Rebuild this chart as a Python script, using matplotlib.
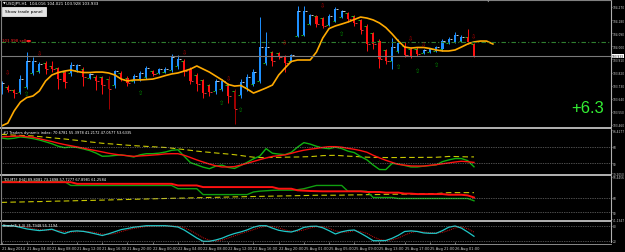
import matplotlib
matplotlib.use("Agg")
import matplotlib.pyplot as plt
from matplotlib.lines import Line2D
from matplotlib.patches import Rectangle

plt.rcParams['font.family'] = ['DejaVu Sans']

# ---------------- data ----------------
opens = [
    103.693, 103.720, 103.700, 103.686, 103.720, 103.817, 103.830, 103.885, 103.865, 103.851,
    103.823, 103.817, 103.837, 103.844, 103.782, 103.789, 103.789, 103.775, 103.734, 103.817,
    103.782, 103.762, 103.775, 103.789, 103.830, 103.817, 103.823, 103.837, 103.865, 103.899,
    103.844, 103.803, 103.769, 103.734, 103.693, 103.707, 103.734, 103.693, 103.665, 103.720,
    103.741, 103.762, 103.885, 103.961, 103.954, 103.933, 103.899, 104.071, 104.078, 104.153,
    104.208, 104.194, 104.146, 104.174, 104.201, 104.229, 104.208, 104.181, 104.140, 104.091,
    104.036, 103.975, 103.899, 103.968, 104.002, 103.981, 103.981, 103.954, 103.961, 103.968,
    103.981, 104.023, 104.030, 104.036, 104.064, 104.016]
highs = [
    103.762, 103.734, 103.707, 103.803, 103.961, 103.927, 103.892, 103.899, 103.899, 103.858,
    103.830, 103.892, 103.878, 103.858, 103.817, 103.803, 103.796, 103.796, 103.837, 103.830,
    103.796, 103.810, 103.830, 103.865, 103.837, 103.851, 103.858, 103.947, 103.940, 103.913,
    103.858, 103.817, 103.775, 103.741, 103.775, 103.775, 103.748, 103.707, 103.775, 103.810,
    103.844, 104.201, 104.098, 103.968, 103.961, 103.940, 103.947, 104.277, 104.277, 104.222,
    104.215, 104.201, 104.222, 104.270, 104.249, 104.236, 104.215, 104.188, 104.153, 104.098,
    104.050, 103.981, 104.057, 104.050, 104.030, 103.995, 103.995, 103.981, 103.988, 104.002,
    104.050, 104.064, 104.098, 104.078, 104.119, 104.021]
lows = [
    103.672, 103.686, 103.645, 103.672, 103.707, 103.803, 103.817, 103.810, 103.823, 103.707,
    103.714, 103.796, 103.823, 103.727, 103.775, 103.700, 103.672, 103.569, 103.714, 103.762,
    103.727, 103.748, 103.762, 103.775, 103.796, 103.810, 103.817, 103.823, 103.844, 103.796,
    103.741, 103.693, 103.645, 103.659, 103.672, 103.693, 103.611, 103.466, 103.645, 103.693,
    103.727, 103.748, 103.872, 103.865, 103.913, 103.823, 103.892, 104.064, 104.071, 104.146,
    104.133, 104.126, 104.140, 104.167, 104.194, 104.167, 104.140, 104.085, 103.968, 103.981,
    103.851, 103.878, 103.844, 103.954, 103.927, 103.920, 103.933, 103.947, 103.954, 103.961,
    103.968, 104.016, 104.023, 104.030, 104.016, 103.928]
closes = [
    103.748, 103.700, 103.679, 103.775, 103.899, 103.899, 103.878, 103.844, 103.844, 103.775,
    103.755, 103.872, 103.872, 103.789, 103.810, 103.762, 103.734, 103.707, 103.830, 103.775,
    103.748, 103.796, 103.817, 103.851, 103.810, 103.844, 103.844, 103.927, 103.913, 103.830,
    103.762, 103.741, 103.679, 103.686, 103.762, 103.762, 103.659, 103.569, 103.755, 103.789,
    103.823, 103.995, 103.995, 103.899, 103.927, 103.885, 103.940, 104.243, 104.243, 104.215,
    104.153, 104.140, 104.208, 104.256, 104.243, 104.188, 104.160, 104.112, 104.016, 104.016,
    103.913, 103.899, 103.995, 104.023, 103.940, 103.933, 103.947, 103.975, 103.981, 103.995,
    104.036, 104.050, 104.078, 104.064, 104.030, 103.933]
weak_bars = [17, 37]

ma_line = [
    103.453, 103.473, 103.556, 103.617, 103.648, 103.659, 103.693, 103.762, 103.803, 103.820,
    103.830, 103.837, 103.827, 103.820, 103.820, 103.823, 103.823, 103.817, 103.803, 103.775,
    103.762, 103.769, 103.769, 103.772, 103.775, 103.786, 103.799, 103.810, 103.817, 103.830,
    103.844, 103.865, 103.844, 103.823, 103.796, 103.769, 103.738, 103.727, 103.731, 103.707,
    103.679, 103.696, 103.714, 103.734, 103.803, 103.851, 103.896, 103.906, 103.906, 103.906,
    103.961, 104.057, 104.122, 104.140, 104.153, 104.167, 104.184, 104.201, 104.194, 104.181,
    104.160, 104.129, 104.085, 104.036, 103.995, 103.988, 103.992, 103.992, 103.985, 103.975,
    103.968, 103.968, 103.975, 103.995, 104.016, 104.030, 104.036, 104.036, 104.016]

sell_arrow_bars = [1, 6, 29, 36, 45, 51, 65, 67, 75]
sell_arrow_prices = [103.823, 103.954, 103.961, 103.782, 104.030, 104.284, 104.057, 104.016, 104.071]
buy_arrow_bars = [4, 22, 35, 38, 54, 63, 66, 69]
buy_arrow_prices = [103.679, 103.686, 103.617, 103.569, 104.091, 103.858, 103.837, 103.872]

bid_price = 103.933
level_price = 104.028
price_ticks = [104.270, 104.180, 104.090, 104.000, 103.910, 103.820, 103.730, 103.640, 103.550, 103.460]

tdi_green = [
    77.7, 76.8, 77.5, 78.9, 78.2, 77.1, 75.6, 73.6, 71.5, 68.8,
    67.2, 68.0, 67.4, 65.8, 64.0, 61.3, 57.8, 58.0, 58.7, 59.3,
    58.3, 57.0, 59.4, 60.6, 60.6, 61.2, 62.4, 64.3, 64.9, 57.8,
    50.8, 48.4, 45.9, 44.2, 47.0, 48.1, 45.6, 44.5, 47.8, 51.2,
    55.0, 58.0, 66.1, 61.1, 60.2, 59.6, 62.1, 67.8, 72.7, 71.1,
    68.7, 66.9, 66.1, 67.7, 66.2, 63.4, 61.8, 57.5, 53.9, 48.2,
    43.3, 43.2, 49.9, 49.4, 47.7, 46.1, 46.1, 47.0, 47.6, 48.4,
    51.9, 53.8, 55.3, 55.3, 53.0, 46.3]
tdi_red = [
    79.0, 79.3, 79.6, 80.0, 79.2, 78.6, 77.0, 75.4, 73.9, 72.1,
    70.6, 69.3, 68.0, 66.6, 65.2, 63.9, 62.5, 61.1, 60.0, 59.1,
    58.4, 57.7, 58.2, 58.6, 59.1, 59.6, 60.4, 60.6, 60.6, 58.9,
    56.4, 53.8, 51.5, 49.3, 47.4, 46.1, 46.1, 46.5, 48.2, 50.1,
    52.1, 54.1, 55.9, 57.6, 58.5, 59.3, 61.0, 62.9, 64.4, 65.5,
    66.4, 67.5, 68.3, 68.3, 67.7, 66.5, 65.4, 64.0, 62.2, 58.9,
    56.0, 53.4, 51.1, 48.9, 48.1, 47.2, 47.1, 47.1, 47.9, 48.6,
    49.6, 50.5, 51.5, 52.3, 51.8, 51.1]
tdi_base = [
    81.7, 81.3, 80.9, 80.6, 80.3, 80.0, 79.3, 78.7, 78.0, 77.3,
    76.7, 75.9, 75.2, 74.4, 73.5, 72.8, 72.0, 71.5, 71.0, 70.4,
    69.9, 69.4, 69.0, 68.6, 68.2, 67.8, 67.4, 66.7, 65.9, 65.1,
    64.3, 63.4, 62.7, 62.1, 61.4, 60.8, 60.2, 59.5, 58.6, 57.6,
    56.8, 56.4, 56.4, 56.5, 56.6, 56.8, 56.9, 57.0, 57.2, 57.4,
    57.9, 58.5, 58.7, 58.8, 58.4, 57.9, 57.6, 57.2, 56.8, 56.6,
    56.5, 56.4, 56.4, 56.4, 56.5, 56.5, 56.5, 56.6, 56.6, 56.7,
    57.1, 57.6, 57.5, 57.3, 57.1, 57.1]

mtf_red = ([86.8] * 12 + [84.8] * 16 + [82.8] * 4 + [80.8] * 12 + [78.8] * 3 +
           [76.8, 76.4, 76.0, 75.8] + [75.6] * 7 + [74.8] * 3 + [74.0] * 3 +
           [72.8] * 2 + [72.2] * 5 + [71.4] * 3 + [70.6, 68.0])
mtf_green = ([87.6] * 11 + [82.8] * 17 + [78.8] * 4 + [71.6] * 8 +
             [74.8, 75.8, 76.3, 76.8] + [77.0] * 3 + [77.6, 78.8, 80.8] +
             [82.8] * 5 + [75.6] * 4 + [68.0] * 4 + [66.8] * 12 + [64.0])
mtf_base = [
    62.0, 62.2, 62.4, 62.5, 62.7, 62.9, 63.0, 63.2, 63.4, 63.6,
    63.7, 63.9, 64.1, 64.3, 64.4, 64.6, 64.8, 65.0, 65.2, 65.4,
    65.6, 65.8, 66.0, 66.2, 66.4, 66.6, 66.8, 67.0, 67.2, 67.3,
    67.5, 67.7, 67.9, 68.1, 68.2, 68.4, 68.6, 68.8, 68.9, 69.1,
    69.2, 69.4, 69.5, 69.7, 69.8, 70.0, 70.1, 70.3, 70.4, 70.6,
    70.8, 70.8, 70.8, 70.8, 70.9, 71.1, 71.2, 71.3, 71.5, 71.6,
    71.7, 71.9, 72.0, 72.1, 72.2, 72.3, 72.4, 72.5, 72.7, 72.8,
    73.4, 74.0, 74.0, 74.0, 74.0, 74.0]

stoch_main = [
    81.2, 81.2, 80.0, 74.3, 68.2, 64.5, 61.2, 63.7, 66.9, 57.2,
    49.4, 58.0, 60.0, 58.0, 53.1, 47.4, 41.2, 48.2, 56.7, 65.3,
    69.8, 75.1, 78.0, 81.2, 81.2, 81.2, 81.2, 78.8, 75.9, 63.7,
    47.4, 31.0, 17.6, 17.6, 22.9, 30.2, 40.8, 49.4, 55.9, 64.1,
    75.1, 81.2, 81.2, 71.4, 62.5, 58.0, 55.5, 62.9, 74.3, 78.4,
    79.2, 72.7, 60.8, 47.4, 56.3, 61.6, 63.7, 50.6, 35.9, 20.0,
    20.0, 20.8, 29.8, 42.1, 57.6, 60.0, 57.6, 51.8, 50.2, 50.2,
    61.2, 75.1, 80.0, 71.4, 55.5, 38.0]
stoch_signal = [
    80, 81, 81, 79, 75, 69, 65, 63, 64, 62,
    58, 55, 56, 59, 57, 53, 47, 46, 49, 57,
    64, 70, 74, 78, 80, 81, 81, 80, 79, 73,
    62, 47, 32, 22, 19, 23, 31, 40, 49, 57,
    65, 74, 79, 78, 72, 64, 59, 59, 64, 72,
    77, 77, 71, 60, 55, 55, 61, 57, 50, 36,
    25, 20, 24, 31, 43, 53, 58, 56, 53, 51,
    54, 62, 72, 76, 69, 55]

time_tick_bars = [0, 4, 8, 12, 16, 20, 24, 28, 32, 36, 40, 44, 48, 52, 56, 60, 64, 68, 72]
time_tick_labels = ["21 Aug 2014", "21 Aug 04:00", "21 Aug 08:00", "21 Aug 12:00",
                    "21 Aug 16:00", "21 Aug 20:00", "22 Aug 00:00", "22 Aug 04:00",
                    "22 Aug 08:00", "22 Aug 12:00", "22 Aug 16:00", "22 Aug 20:00",
                    "25 Aug 01:00", "25 Aug 05:00", "25 Aug 09:00", "25 Aug 13:00",
                    "25 Aug 17:00", "25 Aug 21:00", "26 Aug 01:00"]

header_text = "USDJPY,H1  104.016 104.021 103.928 103.933"
tdi_title = "#1 Traders dynamic index: 70.6781 55.3978 41.2172 47.0577 53.6335"
mtf_title = "TDI-MTF [H4] 89.8081 73.1898 57.7277 67.8981 61.2584"
stoch_title = "Stoch(5,3,3) 35.7948 55.1194"
profit_text = "+6.3"

# ---------------- figure ----------------
W, H = 625, 253
fig = plt.figure(figsize=(W / 100, H / 100), dpi=100, facecolor='black')
AXFS = 2.05

def add_ax(y_top, y_bot):
    ax = fig.add_axes([1 / W, (H - y_bot) / H, 610 / W, (y_bot - y_top) / H])
    ax.set_facecolor('black')
    for s in ax.spines.values():
        s.set_visible(False)
    ax.spines['right'].set_visible(True)
    ax.spines['right'].set_color('#b0b0b0')
    ax.spines['right'].set_linewidth(0.8)
    ax.set_xlim(-0.08, 96.75)
    ax.yaxis.tick_right()
    ax.tick_params(axis='y', colors='#d0d0d0', labelsize=AXFS, length=0.9, width=0.4, pad=0.3)
    ax.tick_params(axis='x', bottom=False, labelbottom=False)
    return ax

ax = add_ax(1, 128)
ax1 = add_ax(130, 175)
ax2 = add_ax(177, 221)
ax3 = add_ax(223, 243)

GRAY = '#c0c0c0'
# separators / borders
for yy in (128.8, 176.0, 222.0):
    fig.add_artist(Line2D([0, 611 / W], [(H - yy) / H] * 2, color=GRAY, lw=1.3))
fig.add_artist(Line2D([0, 611 / W], [(H - 0.5) / H] * 2, color='#808080', lw=0.8))
fig.add_artist(Line2D([0.5 / W] * 2, [(H - 245) / H, 1], color='#808080', lw=0.8))
fig.add_artist(Line2D([0, 611 / W], [(H - 244.5) / H] * 2, color='#a0a0a0', lw=0.6))

# ---------------- main price panel ----------------
n = len(opens)
xs = list(range(n))
ax.set_ylim(103.446, 104.318)
for i in xs:
    o, h, l, c = opens[i], highs[i], lows[i], closes[i]
    if i in weak_bars:
        col = '#a00000'
    elif c >= o:
        col = '#1e90ff'
    else:
        col = '#ff1010'
    ax.vlines(i, l, h, color=col, lw=0.7)
    bot = min(o, c)
    ht = max(abs(c - o), 0.004)
    ax.bar(i, ht, bottom=bot, width=0.34, color=col, linewidth=0)
    # small open/close ticks
    ax.hlines(o, i - 0.45, i - 0.12, color='#20d020', lw=0.6)
    ax.hlines(c, i + 0.12, i + 0.45, color='#e8e8e8' if c >= o else '#ff4040', lw=0.6)

ax.plot(range(len(ma_line)), ma_line, color='#ffaa00', lw=1.2, solid_joinstyle='round')

ax.axhline(level_price, color='#2f7f2f', lw=0.8, ls=(0, (4, 2, 1, 2)))
ax.axhline(bid_price, color='#7a7a7a', lw=0.8)

for b, p in zip(sell_arrow_bars, sell_arrow_prices):
    ax.text(b, p, '\u21e9', color='#b00000', fontsize=4.5, ha='center', va='center')
for b, p in zip(buy_arrow_bars, buy_arrow_prices):
    ax.text(b, p, '\u21e7', color='#008a00', fontsize=4.5, ha='center', va='center')

ax.set_yticks(price_ticks)
ax.set_yticklabels([f"{t:.3f}" for t in price_ticks])
ax.text(1.0018, bid_price, f"{bid_price:.3f}", transform=ax.get_yaxis_transform(),
        fontsize=AXFS, color='black', va='center', ha='left',
        bbox=dict(boxstyle='square,pad=0.12', fc='white', ec='white', lw=0))

ax.text(93, 103.577, profit_text, color='#33ee33', fontsize=12, ha='center', va='center',
        family='Liberation Sans')

# header, button, label
fig.text(2.5 / W, (H - 3.5) / H, '\u25bc', color='white', fontsize=2.5, va='center', ha='left')
fig.text(6 / W, (H - 3.5) / H, header_text, color='white', fontsize=2.9, va='center', ha='left')
fig.add_artist(Rectangle((2 / W, (H - 16.5) / H), 44 / W, 8.5 / H, facecolor='#e4e4e4',
                         edgecolor='#ffffff', lw=0.5))
fig.text(24 / W, (H - 12.3) / H, 'Show trade panel', color='black', fontsize=3.1,
         va='center', ha='center')
fig.text(2.5 / W, (H - 41.5) / H, '103.998 sell', color='#ff2020', fontsize=2.8,
         va='center', ha='left')
fig.text(26 / W, (H - 41.5) / H, '\u25ac', color='#ff2020', fontsize=4,
         va='center', ha='left')
fig.text(488 / W, (H - 1.2) / H, '\u25bc', color='#909090', fontsize=2.5, va='center', ha='center')

# ---------------- TDI panel ----------------
ax1.set_ylim(38.4, 87.6)
ax1.plot(xs, tdi_base, color='#c8c800', lw=0.8, ls=(0, (5, 3)))
ax1.plot(xs, tdi_green, color='#10b010', lw=1.0)
ax1.plot(xs, tdi_red, color='#ff1010', lw=1.0)
for lv in (68, 50):
    ax1.axhline(lv, color='#9a9a9a', lw=0.5, ls=(0, (1, 1.5)))
ax1.set_yticks([86.4177, 68, 50, 39.205])
ax1.set_yticklabels(['86.4177', '68', '50', '39.2050'])
ax1.text(0.003, 0.985, tdi_title, transform=ax1.transAxes, color='white', fontsize=2.6,
         va='top', ha='left')

# ---------------- TDI-MTF panel ----------------
ax2.set_ylim(40.4, 94.4)
ax2.plot(xs, mtf_base, color='#c8c800', lw=0.8, ls=(0, (5, 3)))
ax2.plot(xs, mtf_green, color='#10a010', lw=1.0)
ax2.plot(xs, mtf_red, color='#ff1010', lw=1.4)
for lv in (68, 50):
    ax2.axhline(lv, color='#9a9a9a', lw=0.5, ls=(0, (1, 1.5)))
ax2.set_yticks([93.4456, 68, 50, 41.1347])
ax2.set_yticklabels(['93.4456', '68', '50', '41.1347'])
ax2.text(0.003, 0.985, mtf_title, transform=ax2.transAxes, color='white', fontsize=2.6,
         va='top', ha='left')

# ---------------- Stochastic panel ----------------
ax3.set_ylim(14.7, 96.3)
ax3.plot(xs, stoch_signal, color='#d01010', lw=0.7, ls=(0, (1, 1)))
ax3.plot(xs, stoch_main, color='#20c8c8', lw=0.9)
for lv in (80, 20):
    ax3.axhline(lv, color='#9a9a9a', lw=0.5, ls=(0, (1, 1.5)))
ax3.set_yticks([80, 20])
ax3.set_yticklabels(['80', '20'])
ax3.text(0.003, 0.97, stoch_title, transform=ax3.transAxes, color='white', fontsize=2.6,
         va='top', ha='left')

ax3.set_xticks(time_tick_bars)
ax3.set_xticklabels(time_tick_labels)
ax3.tick_params(axis='x', bottom=True, labelbottom=True, colors='#d0d0d0', labelsize=2.6,
                length=1.5, width=0.4, pad=1.2)
for lab in ax3.get_xticklabels():
    lab.set_ha('left')

fig.savefig('out.png', dpi=100, facecolor='black')
